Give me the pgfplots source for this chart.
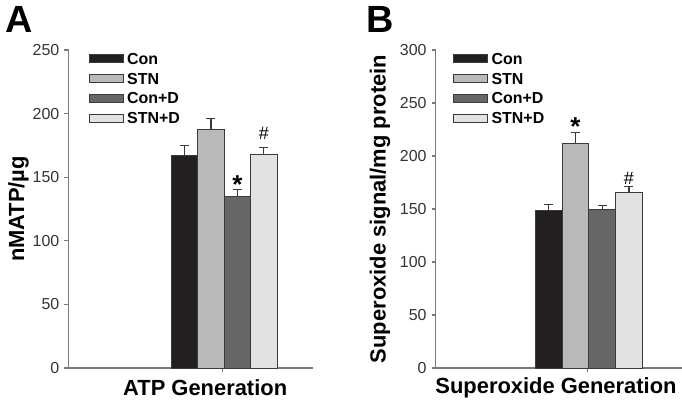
\documentclass[border=0pt]{standalone}
\usepackage{pgfplots}
\pgfplotsset{compat=1.18}
\usepackage{fontspec}
\setmainfont{Liberation Sans}

\definecolor{cCon}{HTML}{231F20}
\definecolor{cSTN}{HTML}{B9B9B9}
\definecolor{cConD}{HTML}{666666}
\definecolor{cSTND}{HTML}{E2E2E2}
\definecolor{axgray}{HTML}{7A7A7A}
\definecolor{edge}{HTML}{3A3A3A}
\definecolor{txt}{HTML}{333333}

\pgfplotsset{
  panel/.style={
    scale only axis, height=318bp,
    axis x line=bottom, axis y line=left,
    axis line style={axgray, line width=1.1bp, -},
    tick style={axgray, line width=1.1bp},
    tick align=outside, major tick length=4bp,
    ymin=0,
    xtick={-0.05}, xticklabels={},
    ybar, bar width=1,
    /pgf/number format/assume math mode=true,
    ticklabel style={font=\fontsize{16}{19}\selectfont, text=txt},
    yticklabel style={inner xsep=5bp},
    label style={font=\fontsize{22}{26}\selectfont\bfseries, text=black},
    ylabel style={anchor=center},
    xlabel style={anchor=center},
    every axis plot/.append style={bar shift=0pt, draw=edge, line width=0.7bp,
      error bars/y dir=plus, error bars/y explicit,
      error bars/error mark=-,
      error bars/error bar style={draw=edge, line width=1.1bp},
      error bars/error mark options={draw=edge, line width=1.1bp, mark size=4.5bp, rotate=90}},
    legend style={draw=none, fill=none, anchor=north west, inner sep=0pt,
      font=\fontsize{16}{19}\selectfont\bfseries, row sep=8.5bp, column sep=4bp,
      nodes={inner sep=0pt, text height=11.4bp, text depth=0bp}},
    legend cell align=left,
    legend image code/.code={\draw[#1, line width=0.7bp] (0bp,-4bp) rectangle (34bp,4bp);},
  },
}

\begin{document}
\begin{tikzpicture}
\path[use as bounding box] (0,0) rectangle (682bp,-405bp);

\node[font=\fontsize{38}{38}\selectfont\bfseries] at (19.5bp,-19bp) {A};
\node[font=\fontsize{38}{38}\selectfont\bfseries] at (380.5bp,-19bp) {B};

% panel A: ATP
\begin{axis}[panel, at={(68.5bp,-368bp)}, anchor=south west, width=244.5bp,
  xmin=-5.89, xmax=3.36, ymax=250, ytick={0,50,...,250},
  ylabel={nMATP/µg}, xlabel={ATP Generation},
  ylabel style={at={(axis description cs:-0.204,0.5)}},
  xlabel style={at={(axis description cs:0.559,-0.063)}},
  legend style={at={(axis description cs:0.081,0.992)}}]
\addplot[fill=cCon] coordinates {(-1.5,167) +- (0,8)};
\addplot[fill=cSTN] coordinates {(-0.5,188) +- (0,8)};
\addplot[fill=cConD] coordinates {(0.5,135) +- (0,5)};
\addplot[fill=cSTND] coordinates {(1.5,168) +- (0,5)};
\legend{Con,STN,Con+D,STN+D}
\node[font=\fontsize{26}{26}\selectfont\bfseries, yshift=-5bp] at (axis cs:0.5,147.8) {*};
\node[font=\fontsize{18}{18}\selectfont] at (axis cs:1.5,184.7) {\#};
\end{axis}

% panel B: superoxide
\begin{axis}[panel, at={(435.7bp,-368bp)}, anchor=south west, width=246bp,
  xmin=-5.72, xmax=3.47, ymax=300, ytick={0,50,...,300},
  ylabel={Superoxide signal/mg protein}, xlabel={Superoxide Generation},
  ylabel style={at={(axis description cs:-0.226,0.5)}},
  xlabel style={at={(axis description cs:0.489,-0.063)}},
  legend style={at={(axis description cs:0.069,0.992)}}]
\addplot[fill=cCon] coordinates {(-1.5,149) +- (0,5)};
\addplot[fill=cSTN] coordinates {(-0.5,212) +- (0,10)};
\addplot[fill=cConD] coordinates {(0.5,150) +- (0,3)};
\addplot[fill=cSTND] coordinates {(1.5,166) +- (0,5)};
\legend{Con,STN,Con+D,STN+D}
\node[font=\fontsize{26}{26}\selectfont\bfseries, yshift=-5bp] at (axis cs:-0.5,232) {*};
\node[font=\fontsize{18}{18}\selectfont] at (axis cs:1.5,179) {\#};
\end{axis}
\end{tikzpicture}
\end{document}
